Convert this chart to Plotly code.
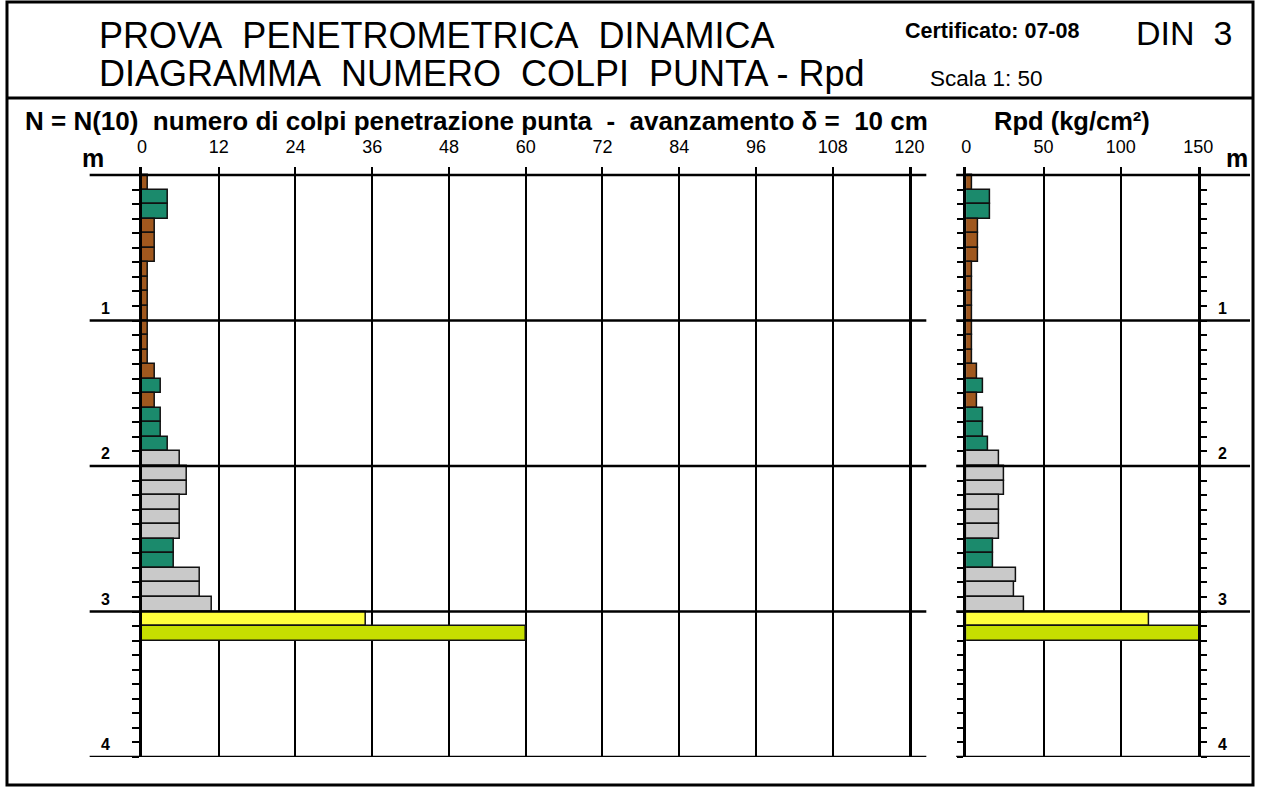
import plotly.graph_objects as go

W, H = 1270, 787
# the page renders the figure about 1255 px wide; horizontal positions are laid out for that width
W_EFF = 1255

# ---------------- data ----------------
depth_m = [0.1, 0.2, 0.3, 0.4, 0.5, 0.6, 0.7, 0.8, 0.9, 1.0, 1.1, 1.2, 1.3, 1.4, 1.5, 1.6,
           1.7, 1.8, 1.9, 2.0, 2.1, 2.2, 2.3, 2.4, 2.5, 2.6, 2.7, 2.8, 2.9, 3.0, 3.1, 3.2]
n_colpi = [1, 4, 4, 2, 2, 2, 1, 1, 1, 1, 1, 1, 1, 2, 3, 2,
           3, 3, 4, 6, 7, 7, 6, 6, 6, 5, 5, 9, 9, 11, 35, 60]
rpd = [4, 15.5, 15.5, 7.5, 7.5, 7.5, 3.8, 3.8, 3.8, 3.8, 3.8, 3.8, 3.8, 7.1, 11.1, 7.1,
       11.1, 11.1, 14, 21.5, 24.7, 24.7, 21.5, 21.5, 21.5, 17.6, 17.6, 32, 30.7, 37.5, 118, 202]
classe = ["b", "g", "g", "b", "b", "b", "b", "b", "b", "b", "b", "b", "b", "b", "g", "b",
          "g", "g", "g", "s", "s", "s", "s", "s", "s", "g", "g", "s", "s", "s", "y", "l"]
palette = {"b": "#a0581e", "g": "#1b8a6c", "s": "#c9c9c9", "y": "#ffff3c", "l": "#c6df00"}

n_ticks = [0, 12, 24, 36, 48, 60, 72, 84, 96, 108, 120]
rpd_ticks = [0, 50, 100, 150]
depth_labels = [1, 2, 3, 4]
depth_lines = [0, 1, 2, 3, 4]
minor_ticks = [round(i * 0.1, 1) for i in range(0, 41)]

colors = [palette[c] for c in classe]


def px(x):
    return min(x / W_EFF, 1.0)


def py(y):
    return 1 - y / H


fig = go.Figure()

fig.add_trace(go.Bar(x=n_colpi, y=depth_m, orientation="h", width=0.1, offset=-0.1,
                     marker=dict(color=colors, line=dict(color="#111", width=1.5)),
                     xaxis="x", yaxis="y", showlegend=False, hoverinfo="skip"))
fig.add_trace(go.Bar(x=rpd, y=depth_m, orientation="h", width=0.1, offset=-0.1,
                     marker=dict(color=colors, line=dict(color="#111", width=1.5)),
                     xaxis="x2", yaxis="y2", showlegend=False, hoverinfo="skip"))

y_top, y_bot = 167, 757
ydom = [py(y_bot), py(y_top)]
yrange = [4, -0.055]

common_x = dict(side="top", showgrid=True, gridcolor="black", gridwidth=2, zeroline=False,
                showline=False, ticks="outside", ticklen=6, tickcolor="rgba(0,0,0,0)",
                tickfont=dict(family="Liberation Sans, Arial", size=18, color="black"),
                fixedrange=True)
fig.update_layout(
    width=W, height=H, autosize=False,
    margin=dict(l=0, r=0, t=0, b=0),
    paper_bgcolor="white", plot_bgcolor="white",
    bargap=0,
    xaxis=dict(domain=[px(137.5), px(908)], range=[0, 120], tickvals=n_ticks, anchor="y", **common_x),
    yaxis=dict(domain=ydom, range=yrange, anchor="x", showgrid=False, zeroline=False,
               showline=True, linewidth=2.5, linecolor="black", mirror=True,
               ticks="outside", tickvals=minor_ticks, ticklen=7, tickwidth=2, tickcolor="black",
               showticklabels=False),
    xaxis2=dict(domain=[px(965), px(1198)], range=[0, 150], tickvals=rpd_ticks, anchor="y2", **common_x),
    yaxis2=dict(domain=ydom, range=yrange, anchor="x2", showgrid=False, zeroline=False,
                showline=True, linewidth=2.5, linecolor="black",
                ticks="outside", tickvals=minor_ticks, ticklen=6, tickwidth=2, tickcolor="black",
                showticklabels=False),
    yaxis3=dict(domain=ydom, range=yrange, anchor="x2", overlaying="y2", side="right",
                showgrid=False, zeroline=False,
                showline=True, linewidth=2.5, linecolor="black",
                ticks="outside", tickvals=minor_ticks, ticklen=6, tickwidth=2, tickcolor="black",
                showticklabels=False),
)
# invisible trace so that the right-hand depth axis is drawn
fig.add_trace(go.Scatter(x=[0], y=[0], xaxis="x2", yaxis="y3", mode="markers",
                         marker=dict(opacity=0), showlegend=False, hoverinfo="skip"))

shapes = []
for d in depth_lines:
    shapes.append(dict(type="line", xref="paper", yref="y", x0=px(85), x1=px(925), y0=d, y1=d,
                       line=dict(color="black", width=2.5), layer="above"))
    shapes.append(dict(type="line", xref="paper", yref="y2", x0=px(955), x1=px(1250), y0=d, y1=d,
                       line=dict(color="black", width=2.5), layer="above"))
# frame and header separator
shapes.append(dict(type="rect", xref="paper", yref="paper", x0=px(2), x1=px(1253), y0=py(785), y1=py(2),
                   line=dict(color="black", width=3)))
shapes.append(dict(type="line", xref="paper", yref="paper", x0=px(2), x1=px(1253), y0=py(98), y1=py(98),
                   line=dict(color="black", width=3)))
fig.update_layout(shapes=shapes)

F = "Liberation Sans, Arial, sans-serif"
ann = []


def text(x, y, s, size, bold=False, xanchor="left", yanchor="middle"):
    ann.append(dict(xref="paper", yref="paper", x=px(x), y=py(y), text=("<b>%s</b>" % s) if bold else s,
                    showarrow=False, xanchor=xanchor, yanchor=yanchor,
                    font=dict(family=F, size=size, color="black")))


text(92, 35, "PROVA&nbsp;&nbsp;PENETROMETRICA&nbsp;&nbsp;DINAMICA", 36)
text(92, 73.5, "DIAGRAMMA&nbsp;&nbsp;NUMERO&nbsp;&nbsp;COLPI&nbsp;&nbsp;PUNTA - Rpd", 36)
text(902, 31, "Certificato: 07-08", 21.5, bold=True)
text(1134, 33, "DIN&nbsp;&nbsp;3", 34)
text(927, 79, "Scala 1: 50", 22.5)
text(18, 121, "N = N(10)&nbsp;&nbsp;numero di colpi penetrazione punta&nbsp;&nbsp;-&nbsp;&nbsp;avanzamento δ =&nbsp;&nbsp;10 cm", 26, bold=True)
text(991, 121, "Rpd (kg/cm²)", 25.5, bold=True)
text(88, 158, "m", 25, bold=True, xanchor="center")
text(1237, 158, "m", 25, bold=True, xanchor="center")

for d in depth_labels:
    ann.append(dict(xref="paper", yref="y", x=px(101), y=d, yshift=2, text="<b>%d</b>" % d, showarrow=False,
                    xanchor="center", yanchor="bottom", font=dict(family=F, size=16, color="black")))
    ann.append(dict(xref="paper", yref="y2", x=px(1222), y=d, yshift=2, text="<b>%d</b>" % d, showarrow=False,
                    xanchor="center", yanchor="bottom", font=dict(family=F, size=16, color="black")))
fig.update_layout(annotations=ann)

fig.write_html(
    "out.html",
    config={"displayModeBar": False},
    post_script="document.body.style.margin='0';document.body.style.overflow='hidden';",
)
